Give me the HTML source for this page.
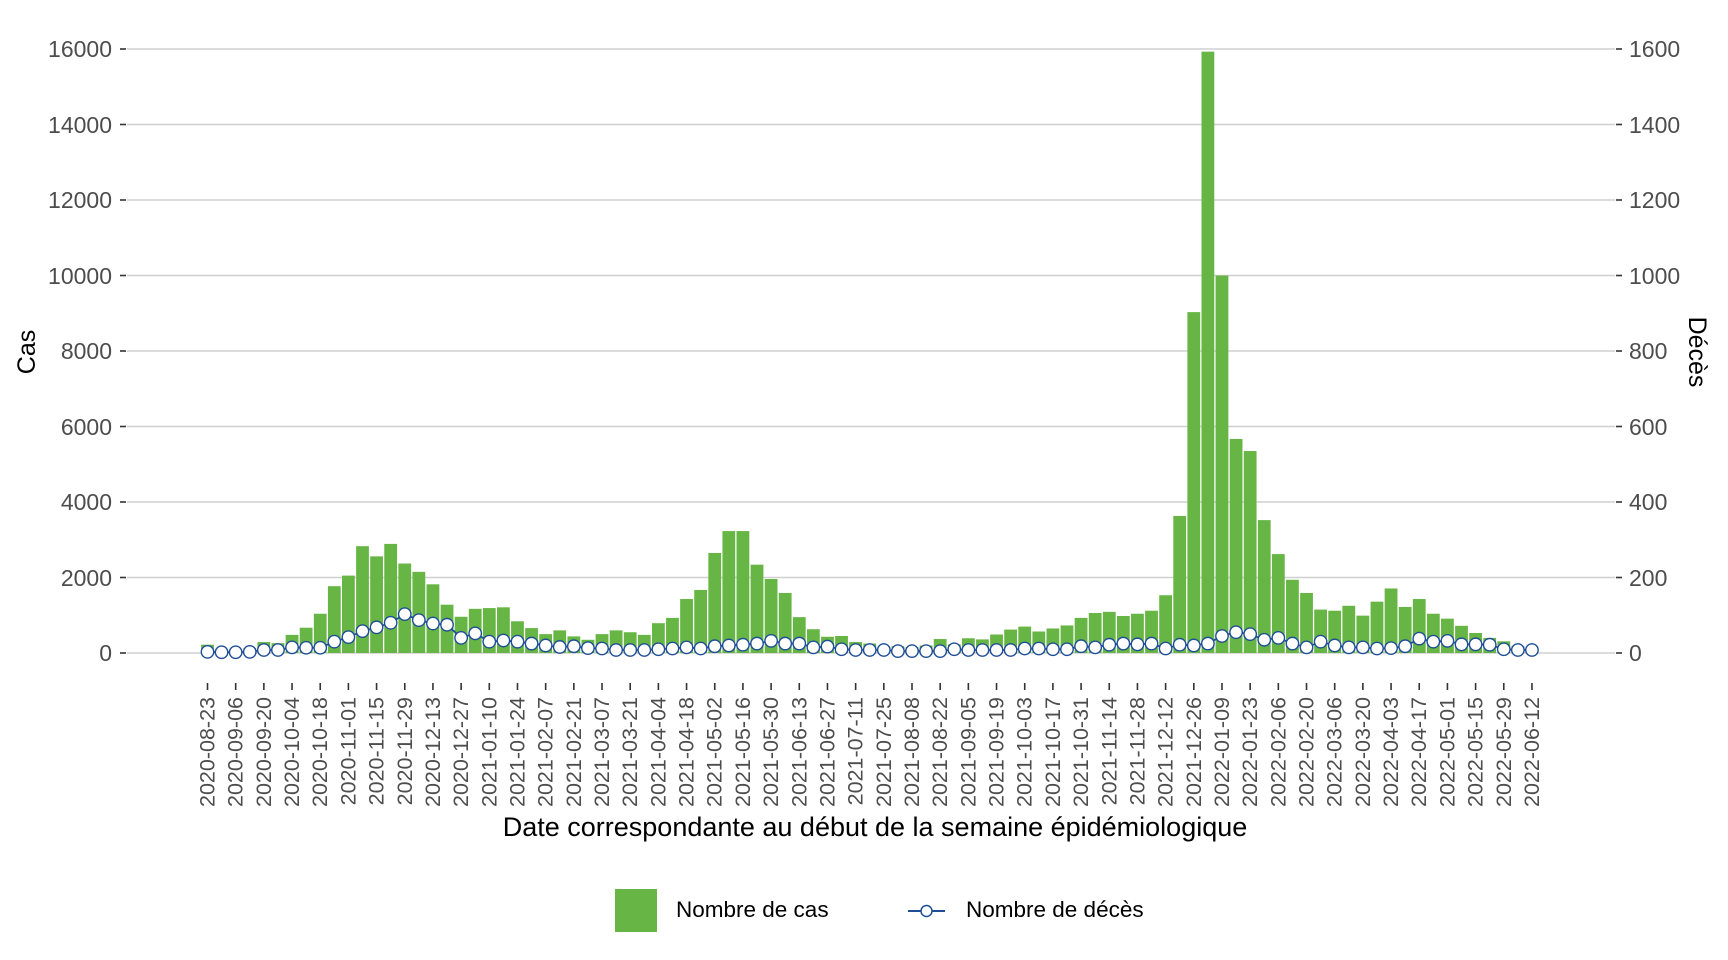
<!DOCTYPE html>
<html><head><meta charset="utf-8"><style>
html,body{margin:0;padding:0;background:#fff;}
svg{display:block;font-family:"Liberation Sans",Arial,sans-serif;}
</style></head><body>
<svg id="s" width="1728" height="960" viewBox="0 0 1728 960" xmlns="http://www.w3.org/2000/svg">
<g id="grid" stroke="#d0d0d0" stroke-width="1.6"></g>
<g id="bars" fill="#67b645"></g>
<g id="line"></g>
<g fill="#4d4d4d" font-size="23" text-anchor="end">
<text x="112" y="57">16000</text><text x="112" y="133">14000</text><text x="112" y="208">12000</text><text x="112" y="284">10000</text><text x="112" y="359">8000</text><text x="112" y="435">6000</text><text x="112" y="510">4000</text><text x="112" y="586">2000</text><text x="112" y="661">0</text>
</g>
<g fill="#4d4d4d" font-size="23" text-anchor="start">
<text x="1629" y="57">1600</text><text x="1629" y="133">1400</text><text x="1629" y="208">1200</text><text x="1629" y="284">1000</text><text x="1629" y="359">800</text><text x="1629" y="435">600</text><text x="1629" y="510">400</text><text x="1629" y="586">200</text><text x="1629" y="661">0</text>
</g>
<g id="xl" fill="#4d4d4d" font-size="21.5" text-anchor="end">
<text>2020-08-23</text><text>2020-09-06</text><text>2020-09-20</text><text>2020-10-04</text><text>2020-10-18</text><text>2020-11-01</text><text>2020-11-15</text><text>2020-11-29</text><text>2020-12-13</text><text>2020-12-27</text><text>2021-01-10</text><text>2021-01-24</text><text>2021-02-07</text><text>2021-02-21</text><text>2021-03-07</text><text>2021-03-21</text><text>2021-04-04</text><text>2021-04-18</text><text>2021-05-02</text><text>2021-05-16</text><text>2021-05-30</text><text>2021-06-13</text><text>2021-06-27</text><text>2021-07-11</text><text>2021-07-25</text><text>2021-08-08</text><text>2021-08-22</text><text>2021-09-05</text><text>2021-09-19</text><text>2021-10-03</text><text>2021-10-17</text><text>2021-10-31</text><text>2021-11-14</text><text>2021-11-28</text><text>2021-12-12</text><text>2021-12-26</text><text>2022-01-09</text><text>2022-01-23</text><text>2022-02-06</text><text>2022-02-20</text><text>2022-03-06</text><text>2022-03-20</text><text>2022-04-03</text><text>2022-04-17</text><text>2022-05-01</text><text>2022-05-15</text><text>2022-05-29</text><text>2022-06-12</text>
</g>
<g id="ticks" stroke="#333" stroke-width="1.6"></g>
<text x="875" y="836" font-size="27" text-anchor="middle" fill="#000">Date correspondante au début de la semaine épidémiologique</text>
<text transform="translate(35,352) rotate(-90)" font-size="25" text-anchor="middle" fill="#000">Cas</text>
<text transform="translate(1689,352) rotate(90)" font-size="25" text-anchor="middle" fill="#000">Décès</text>
<rect x="615" y="889" width="42" height="43" fill="#67b645"/>
<text x="676" y="917" font-size="22.5" fill="#000">Nombre de cas</text>
<line x1="908" y1="911" x2="945" y2="911" stroke="#1f4e96" stroke-width="2"/>
<circle cx="926.5" cy="911" r="5.5" fill="#fff" stroke="#1f4e96" stroke-width="1.5"/>
<text x="966" y="917" font-size="22.5" fill="#000">Nombre de décès</text>
</svg>
<script>
var cases=[220,100,100,130,290,260,480,670,1040,1770,2050,2830,2560,2890,2370,2150,1820,1280,960,1170,1190,1210,840,660,500,600,440,350,500,600,550,480,790,930,1430,1670,2650,3230,3230,2340,1960,1590,950,630,430,450,290,250,170,180,160,200,370,230,390,360,490,620,700,570,650,730,930,1060,1090,980,1040,1120,1530,3630,9030,15930,10000,5670,5350,3520,2620,1940,1590,1150,1120,1250,990,1360,1710,1220,1430,1040,910,720,530,400,310,190,150];
var deaths=[3,2,2,3,8,8,15,14,14,30,42,58,68,80,103,87,78,75,40,52,30,33,30,25,20,16,18,13,12,8,8,8,10,12,15,12,18,20,22,25,32,25,25,15,17,10,8,8,8,5,5,5,5,10,8,8,8,8,12,12,10,10,18,15,22,25,23,25,12,22,20,25,45,55,50,35,40,25,15,30,20,15,15,12,13,18,38,30,32,23,23,22,10,8,8];
var NS="http://www.w3.org/2000/svg";
function el(n,a,p){var e=document.createElementNS(NS,n);for(var k in a)e.setAttribute(k,a[k]);p.appendChild(e);return e;}
var y0=653,yT=49,sc=(y0-yT)/16000,x0=207.5,dx=14.09;
var g=document.getElementById('grid');
for(var i=0;i<=8;i++){var y=y0-i*2000*sc;el('line',{x1:127,x2:1615,y1:y,y2:y},g);}
var t=document.getElementById('ticks');
for(var i=0;i<=8;i++){var y=y0-i*2000*sc;el('line',{x1:120,x2:126,y1:y,y2:y},t);el('line',{x1:1616,x2:1622,y1:y,y2:y},t);}
var b=document.getElementById('bars');
cases.forEach(function(c,i){var x=x0+i*dx;el('rect',{x:x-6.4,width:12.8,y:y0-c*sc,height:c*sc},b);});
var l=document.getElementById('line');var pts=[];
deaths.forEach(function(d,i){pts.push((x0+i*dx)+','+(y0-d*10*sc));});
el('polyline',{points:pts.join(' '),fill:'none',stroke:'#1f4e96','stroke-width':1.8},l);
deaths.forEach(function(d,i){el('circle',{cx:x0+i*dx,cy:y0-d*10*sc,r:6.2,fill:'#fff',stroke:'#1f4e96','stroke-width':1.4},l);});
var xl=document.getElementById('xl').getElementsByTagName('text');
for(var j=0;j<xl.length;j++){var x=x0+j*2*dx;xl[j].setAttribute('transform','translate('+(x+7)+',697) rotate(-90)');el('line',{x1:x,x2:x,y1:683,y2:690},t);}
</script>
</body></html>
